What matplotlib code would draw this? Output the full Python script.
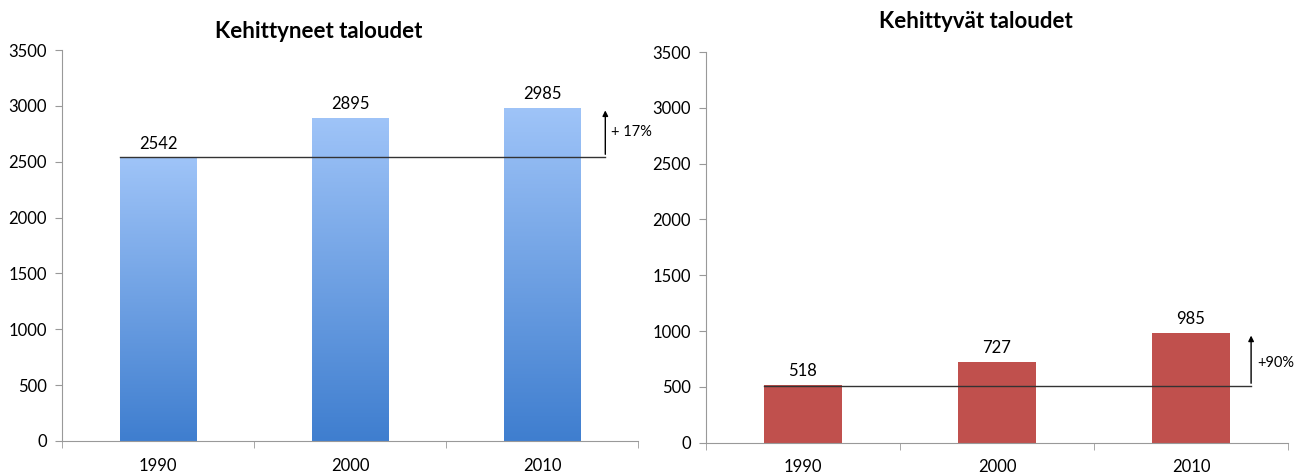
import matplotlib.pyplot as plt
import matplotlib.colors as mcolors
import numpy as np

plt.rcParams['font.family'] = ['Lato', 'DejaVu Sans']

years = ['1990', '2000', '2010']
developed = [2542, 2895, 2985]
developing = [518, 727, 985]
developed_growth = '+ 17%'
developing_growth = '+90%'

fig = plt.figure(figsize=(12.99, 4.73), dpi=100)
ax1 = fig.add_axes([0.0477, 0.068, 0.4434, 0.826])
ax2 = fig.add_axes([0.5435, 0.064, 0.448, 0.826])

x = np.arange(len(years))
width = 0.4

# gradient for the blue bars
blue_cmap = mcolors.LinearSegmentedColormap.from_list('blues', ['#3f7ecf', '#9fc4f8'])
gradient = np.linspace(0, 1, 256).reshape(-1, 1)

bars1 = ax1.bar(x, developed, width, color='none', edgecolor='none')
for b in bars1:
    im = ax1.imshow(gradient, cmap=blue_cmap, origin='lower', aspect='auto',
                    extent=[b.get_x(), b.get_x() + b.get_width(), 0, b.get_height()],
                    zorder=2)
    im.set_clip_path(b)

bars2 = ax2.bar(x, developing, width, color='#c0504d', zorder=2)


def style(ax, title, title_x, title_y):
    ax.set_xlim(-0.5, 2.5)
    ax.set_ylim(0, 3500)
    ax.set_yticks(np.arange(0, 3501, 500))
    ax.set_xticks(x)
    ax.set_xticklabels(years)
    ax.set_xticks(np.arange(-0.5, 3, 1), minor=True)
    ax.tick_params(axis='x', which='major', length=0, pad=12, labelsize=12)
    ax.tick_params(axis='x', which='minor', length=5, color='#999999')
    ax.tick_params(axis='y', length=5, color='#999999', labelsize=12, pad=6)
    for s in ['top', 'right']:
        ax.spines[s].set_visible(False)
    for s in ['left', 'bottom']:
        ax.spines[s].set_color('#999999')
    ax.set_title(title, fontsize=16, fontweight='bold', x=title_x, y=title_y)


style(ax1, 'Kehittyneet taloudet', 0.446, 1.01)
style(ax2, 'Kehittyvät taloudet', 0.464, 1.04)

for ax, vals in [(ax1, developed), (ax2, developing)]:
    for xi, v in zip(x, vals):
        ax.annotate(str(v), (xi, v), xytext=(0, 4), textcoords='offset points',
                    ha='center', va='bottom', fontsize=12)

# growth lines and arrows
ax1.plot([x[0] - width / 2, 2.33], [developed[0], developed[0]], color='#333333', lw=1, zorder=3)
ax1.annotate('', xy=(2.33, developed[-1]), xytext=(2.33, developed[0]),
             arrowprops=dict(arrowstyle='-|>', color='black', lw=1, mutation_scale=8))
ax1.text(2.36, (developed[0] + developed[-1]) / 2, developed_growth,
         fontsize=10.5, va='center', ha='left')

ax2.plot([x[0] - width / 2, 2.31], [developing[0] - 10, developing[0] - 10],
         color='#333333', lw=1, zorder=3)
ax2.annotate('', xy=(2.31, developing[-1]), xytext=(2.31, developing[0] - 10),
             arrowprops=dict(arrowstyle='-|>', color='black', lw=1, mutation_scale=8))
ax2.text(2.34, (developing[0] + developing[-1]) / 2 - 40, developing_growth,
         fontsize=10.5, va='center', ha='left')

fig.savefig('out.png', dpi=100)
